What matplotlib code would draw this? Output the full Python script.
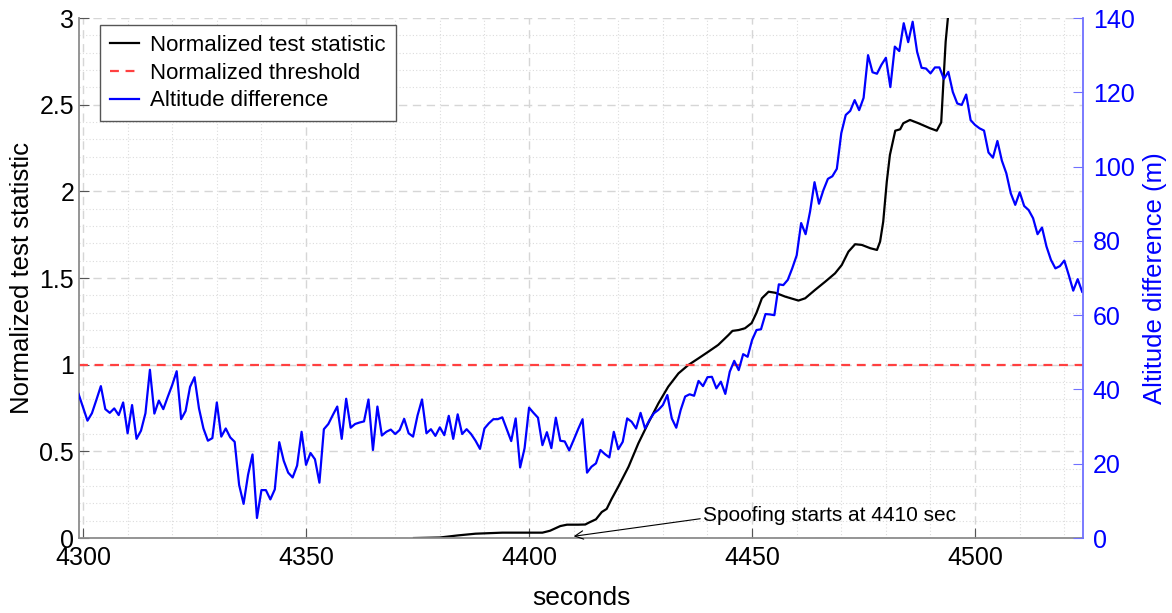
import numpy as np
import matplotlib.pyplot as plt
from matplotlib.ticker import MultipleLocator, FormatStrFormatter

plt.rcParams['font.family'] = ['Liberation Sans', 'DejaVu Sans']

# altitude difference (m), one sample per second starting at t = 4299 s
alt_start = 4299
alt_diff = [
    38.8, 35.2, 31.6, 33.6, 37.2, 40.9, 34.7, 33.7, 34.9, 33.1,
    36.5, 28.2, 35.8, 26.7, 28.9, 33.6, 45.3, 33.5, 37.0, 34.7,
    38.0, 41.2, 44.9, 32.0, 34.2, 40.7, 43.3, 34.9, 29.5, 26.2,
    26.9, 36.5, 27.3, 29.5, 27.1, 25.9, 14.3, 9.2, 17.0, 22.5,
    5.4, 12.9, 12.9, 10.4, 13.1, 25.8, 20.8, 17.6, 16.3, 19.5,
    28.6, 19.7, 22.9, 21.2, 14.9, 29.3, 30.7, 33.1, 35.4, 26.7,
    37.5, 29.7, 30.7, 31.1, 31.4, 37.3, 23.7, 35.4, 27.6, 28.6,
    29.2, 28.0, 29.1, 32.1, 28.2, 27.3, 33.0, 37.3, 28.2, 29.3,
    27.5, 29.8, 27.7, 32.9, 26.7, 33.3, 28.0, 29.3, 28.0, 26.2,
    24.0, 29.5, 30.9, 32.0, 32.0, 32.5, 29.3, 26.1, 32.2, 19.0,
    24.2, 35.1, 33.7, 32.4, 25.0, 28.5, 24.2, 32.4, 26.2, 26.0,
    23.6, 26.4, 29.3, 32.0, 17.6, 19.2, 20.1, 23.7, 22.6, 21.7,
    28.6, 23.9, 25.9, 32.2, 31.3, 29.5, 33.7, 29.5, 31.8, 33.6,
    34.5, 35.8, 38.5, 32.2, 29.7, 34.5, 38.1, 38.7, 38.3, 42.3,
    40.9, 43.3, 43.4, 40.3, 42.1, 38.8, 44.8, 47.7, 45.2, 49.5,
    48.8, 53.3, 56.0, 56.2, 60.3, 60.2, 60.0, 68.3, 68.1, 69.5,
    72.6, 76.1, 84.8, 81.8, 87.9, 95.8, 90.0, 93.7, 96.7, 97.4,
    99.4, 109.0, 113.9, 115.0, 117.9, 115.2, 118.5, 130.0, 125.4, 125.0,
    127.4, 129.3, 121.4, 132.3, 131.1, 138.6, 133.5, 139.0, 130.9, 126.6,
    126.4, 125.1, 126.7, 126.7, 123.6, 125.5, 120.1, 117.0, 116.6, 119.4,
    112.5, 111.2, 110.3, 109.7, 103.8, 102.4, 106.9, 101.6, 98.2, 92.8,
    89.7, 93.1, 89.4, 88.3, 86.1, 81.8, 83.6, 78.5, 74.9, 72.6,
    73.2, 74.7, 70.8, 66.6, 69.7, 66.3,
]
alt_t = np.arange(alt_start, alt_start + len(alt_diff))

# normalized test statistic
stat_t = [4374.2, 4380, 4384, 4388, 4391, 4394, 4403, 4404.7, 4407, 4408.5,
          4411, 4412.6, 4413.5, 4415, 4416.3, 4417.4, 4418.5, 4420, 4422.3, 4424.5,
          4426.7, 4429, 4431.2, 4433.5, 4435.7, 4438, 4440.2, 4442.4, 4444.7, 4445.6,
          4447, 4448.4, 4449.9, 4451, 4452.2, 4453.7, 4455.2, 4457.4, 4460.4, 4461.9,
          4464.1, 4466.4, 4468.6, 4470.1, 4471.6, 4473.1, 4474.6, 4476.5, 4478.0, 4478.7,
          4479.4, 4480.2, 4480.9, 4482.1, 4483.2, 4483.9, 4485.4, 4487.3, 4489.9, 4491.4,
          4492.4, 4492.9, 4493.4, 4493.9, 4494.5]
stat_v = [0.0, 0.003, 0.015, 0.025, 0.028, 0.031, 0.031, 0.042, 0.069, 0.077,
          0.077, 0.078, 0.09, 0.108, 0.15, 0.168, 0.225, 0.296, 0.411, 0.546,
          0.662, 0.777, 0.873, 0.95, 0.998, 1.037, 1.075, 1.114, 1.171, 1.195,
          1.2, 1.21, 1.24, 1.30, 1.383, 1.421, 1.415, 1.393, 1.37, 1.383,
          1.431, 1.479, 1.527, 1.575, 1.652, 1.695, 1.691, 1.672, 1.662, 1.71,
          1.825, 2.056, 2.21, 2.35, 2.358, 2.393, 2.412, 2.393, 2.364, 2.35,
          2.398, 2.633, 2.864, 3.0, 3.3]

threshold = 1.0
spoof_t = 4410

fig = plt.figure(figsize=(11.72, 6.13), dpi=100)
ax1 = fig.add_axes([0.0674, 0.1223, 0.8567, 0.8483])
ax2 = ax1.twinx()

l1, = ax1.plot(stat_t, stat_v, color='black', lw=1.6, label='Normalized test statistic')
l2 = ax1.axhline(threshold, color='#ff4040', lw=1.6, linestyle=(0, (4, 3)),
                 label='Normalized threshold')
l3, = ax2.plot(alt_t, alt_diff, color='#0000ff', lw=1.6, label='Altitude difference')

ax1.set_xlim(4299.1, 4524.2)
ax1.set_ylim(0, 3)
ax2.set_ylim(0, 140)

ax1.xaxis.set_major_locator(MultipleLocator(50))
ax1.xaxis.set_minor_locator(MultipleLocator(10))
ax1.yaxis.set_major_locator(MultipleLocator(0.5))
ax1.yaxis.set_minor_locator(MultipleLocator(0.1))
ax1.yaxis.set_major_formatter(FormatStrFormatter('%g'))
ax2.yaxis.set_major_locator(MultipleLocator(20))

ax1.grid(which='major', linestyle=(0, (6, 4)), color='#d6d6d6', lw=1.0)
ax1.grid(which='minor', linestyle=(0, (1, 2)), color='#dcdcdc', lw=0.8)
ax1.set_axisbelow(True)

for s in ['top', 'right']:
    ax1.spines[s].set_visible(False)
for s in ['top', 'left', 'bottom']:
    ax2.spines[s].set_visible(False)
for s in ['left', 'bottom']:
    ax1.spines[s].set_color('#8c8c8c')
    ax1.spines[s].set_linewidth(1.3)
ax2.spines['right'].set_color('#7070ff')
ax2.spines['right'].set_linewidth(1.3)

ax1.tick_params(which='major', direction='in', length=7, color='#555555',
                labelsize=18, top=False, right=False)
ax1.tick_params(axis='x', which='major', pad=6)
ax1.tick_params(which='minor', length=0)
ax2.tick_params(which='major', direction='in', length=7, color='#7070ff',
                labelcolor='#0000ff', labelsize=18, pad=7)
ax2.tick_params(which='minor', length=0)

ax1.set_xlabel('seconds', fontsize=19, labelpad=11)
ax1.set_ylabel('Normalized test statistic', fontsize=18.5, labelpad=4)
ax2.set_ylabel('Altitude difference (m)', fontsize=18.5, color='#0000ff', labelpad=6)

ax1.annotate('Spoofing starts at 4410 sec', xy=(spoof_t, 0.01), xytext=(4439, 0.13),
             fontsize=15, va='center', ha='left',
             arrowprops=dict(arrowstyle='->', color='black', lw=0.8,
                             shrinkA=0, shrinkB=0, relpos=(0, 0.35)))

leg = ax2.legend(handles=[l1, l2, l3], loc='upper left',
                 bbox_to_anchor=(0.021, 0.9865), borderaxespad=0,
                 fontsize=16, fancybox=False, framealpha=1, edgecolor='#555555',
                 handlelength=1.3, handletextpad=0.5, labelspacing=0.3,
                 borderpad=0.45)
leg.get_frame().set_linewidth(1.0)

fig.savefig('out.png', dpi=100)
